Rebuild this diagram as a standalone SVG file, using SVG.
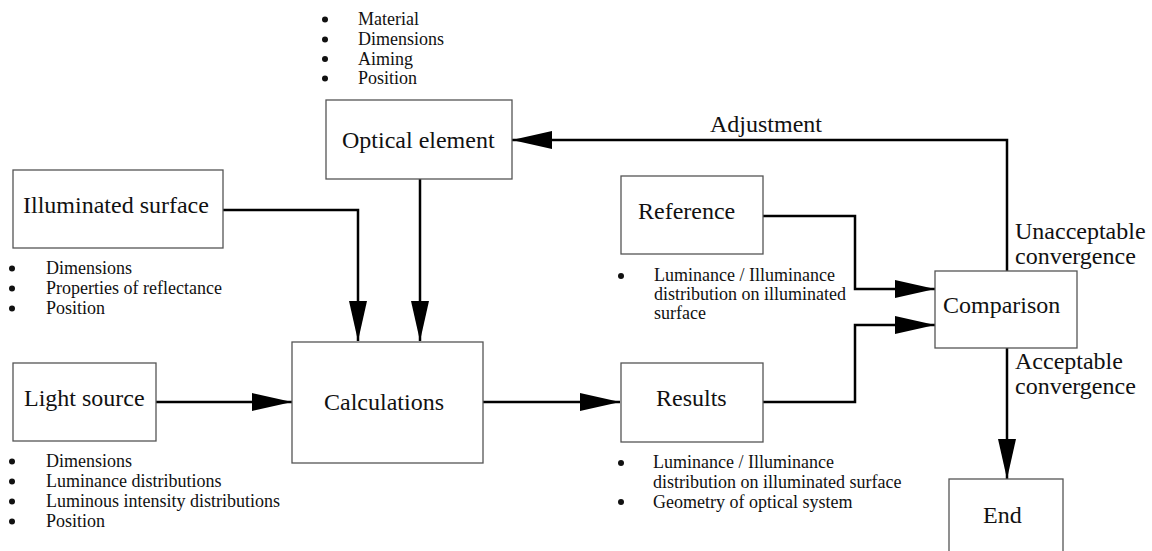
<svg xmlns="http://www.w3.org/2000/svg" width="1152" height="551" viewBox="0 0 1152 551">
<defs>
<style>
.box{fill:#fff;stroke:#555;stroke-width:1.3}
.lbl{font-family:"Liberation Serif","Times New Roman",serif;font-size:24px;fill:#111}
.bl{font-family:"Liberation Serif","Times New Roman",serif;font-size:18px;fill:#111}
.dot{fill:#111}
.con{fill:none;stroke:#000;stroke-width:2.5;marker-end:url(#ah)}
</style>
<marker id="ah" markerUnits="userSpaceOnUse" markerWidth="40" markerHeight="18" refX="40" refY="9" orient="auto" viewBox="0 0 40 18">
<path d="M0,0 L40,9 L0,18 z" fill="#000"/>
</marker>
</defs>
<rect width="1152" height="551" fill="#fff"/>
<g id="connectors">
<path class="con" d="M223,210 H358 V341"/>
<path class="con" d="M420,179 V341"/>
<path class="con" d="M156,402 H292"/>
<path class="con" d="M483,402 H620"/>
<path class="con" d="M763,216 H855 V289 H935"/>
<path class="con" d="M763,402 H855 V325 H935"/>
<path class="con" d="M1007,271 V140 H512"/>
<path class="con" d="M1007,348 V479"/>
<text class="lbl" x="710" y="132">Adjustment</text>
<text class="lbl" x="1015" y="239">Unacceptable</text>
<text class="lbl" x="1015" y="264">convergence</text>
<text class="lbl" x="1015" y="369">Acceptable</text>
<text class="lbl" x="1015" y="394">convergence</text>
</g>
<g id="optical">
<rect class="box" x="326" y="100" width="186" height="79"/>
<text class="lbl" x="342" y="148">Optical element</text>
<circle class="dot" cx="325" cy="19.5" r="3"/>
<circle class="dot" cx="325" cy="39.5" r="3"/>
<circle class="dot" cx="325" cy="59" r="3"/>
<circle class="dot" cx="325" cy="78.5" r="3"/>
<text class="bl" x="358" y="25">Material</text>
<text class="bl" x="358" y="45">Dimensions</text>
<text class="bl" x="358" y="64.5">Aiming</text>
<text class="bl" x="358" y="84">Position</text>
</g>
<g id="illuminated">
<rect class="box" x="13" y="170" width="210" height="78"/>
<text class="lbl" x="23" y="213">Illuminated surface</text>
<circle class="dot" cx="12" cy="268.5" r="3"/>
<circle class="dot" cx="12" cy="288.5" r="3"/>
<circle class="dot" cx="12" cy="308.5" r="3"/>
<text class="bl" x="46" y="274">Dimensions</text>
<text class="bl" x="46" y="294">Properties of reflectance</text>
<text class="bl" x="46" y="314">Position</text>
</g>
<g id="light">
<rect class="box" x="13" y="363" width="143" height="78"/>
<text class="lbl" x="24" y="406">Light source</text>
<circle class="dot" cx="12" cy="461.5" r="3"/>
<circle class="dot" cx="12" cy="481.5" r="3"/>
<circle class="dot" cx="12" cy="501.5" r="3"/>
<circle class="dot" cx="12" cy="521.5" r="3"/>
<text class="bl" x="46" y="467">Dimensions</text>
<text class="bl" x="46" y="487">Luminance distributions</text>
<text class="bl" x="46" y="507">Luminous intensity distributions</text>
<text class="bl" x="46" y="527">Position</text>
</g>
<g id="calculations">
<rect class="box" x="292" y="342" width="191" height="121"/>
<text class="lbl" x="324" y="410">Calculations</text>
</g>
<g id="reference">
<rect class="box" x="621" y="176" width="142" height="78"/>
<text class="lbl" x="638" y="219">Reference</text>
<circle class="dot" cx="621" cy="276" r="3"/>
<text class="bl" x="654" y="281">Luminance / Illuminance</text>
<text class="bl" x="654" y="300">distribution on illuminated</text>
<text class="bl" x="654" y="319">surface</text>
</g>
<g id="results">
<rect class="box" x="621" y="363" width="142" height="79"/>
<text class="lbl" x="656" y="406">Results</text>
<circle class="dot" cx="621" cy="463" r="3"/>
<circle class="dot" cx="621" cy="502" r="3"/>
<text class="bl" x="653" y="468">Luminance / Illuminance</text>
<text class="bl" x="653" y="488">distribution on illuminated surface</text>
<text class="bl" x="653" y="508">Geometry of optical system</text>
</g>
<g id="comparison">
<rect class="box" x="935" y="271" width="142" height="77"/>
<text class="lbl" x="943" y="313">Comparison</text>
</g>
<g id="end">
<rect class="box" x="949" y="479" width="114" height="80"/>
<text class="lbl" x="983" y="523">End</text>
</g>
</svg>
